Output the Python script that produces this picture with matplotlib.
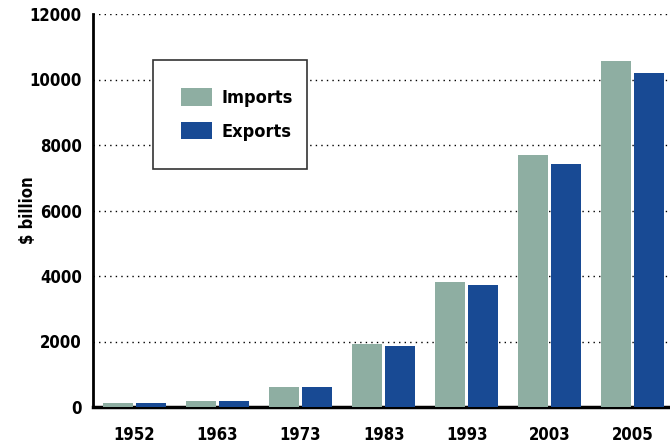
import matplotlib
matplotlib.use('Agg')
import matplotlib.pyplot as plt
import numpy as np
from matplotlib.patches import Patch

years = ['1952', '1963', '1973', '1983', '1993', '2003', '2005']
imports = [130, 190, 610, 1920, 3820, 7690, 10560]
exports = [125, 185, 600, 1860, 3730, 7420, 10200]

plt.rcParams['font.family'] = ['DejaVu Sans']
plt.rcParams['font.stretch'] = 'condensed'

fig = plt.figure(figsize=(6.7, 4.43), dpi=100)
ax = fig.add_axes([93/670, 36/443, 1 - 93/670, 393/443])

x = np.arange(len(years))
w = 0.36
ax.bar(x - w/2 - 0.02, imports, w, color='#8eaea2', zorder=3)
ax.bar(x + w/2 + 0.02, exports, w, color='#184a94', zorder=3)

ax.set_xlim(-0.5, 6.45)
ax.set_ylim(0, 12000)
ax.set_yticks(range(0, 12001, 2000))
ax.set_xticks(x)
ax.set_xticklabels(years)
ax.yaxis.grid(True, linestyle=(0, (1, 3)), color='black', linewidth=1)
ax.set_axisbelow(True)
ax.tick_params(length=0, labelsize=12)
for lab in ax.get_xticklabels() + ax.get_yticklabels():
    lab.set_fontweight('bold')
ax.tick_params(axis='x', pad=14)
ax.tick_params(axis='y', pad=8)

ax.spines['top'].set_visible(False)
ax.spines['right'].set_visible(False)
ax.spines['left'].set_linewidth(2)
ax.spines['bottom'].set_linewidth(2.5)

fig.text(28/670, 1 - 210/443, '\\$ billion', rotation=90, fontsize=12,
         fontweight='bold', ha='center', va='center')

handles = [Patch(facecolor='#8eaea2', label='Imports'),
           Patch(facecolor='#184a94', label='Exports')]
leg = ax.legend(handles=handles, loc='upper left',
                bbox_to_anchor=(60/577, 1 - 46/393 - 105/393, 154/577, 105/393),
                mode='expand', fancybox=False, edgecolor='#333333', framealpha=1,
                prop={'size': 13, 'weight': 'bold'}, handlelength=1.7, handleheight=1.15,
                borderpad=1.55, labelspacing=0.8, borderaxespad=0, handletextpad=0.55)
leg.get_frame().set_linewidth(1.2)

fig.savefig('out.png', dpi=100)
